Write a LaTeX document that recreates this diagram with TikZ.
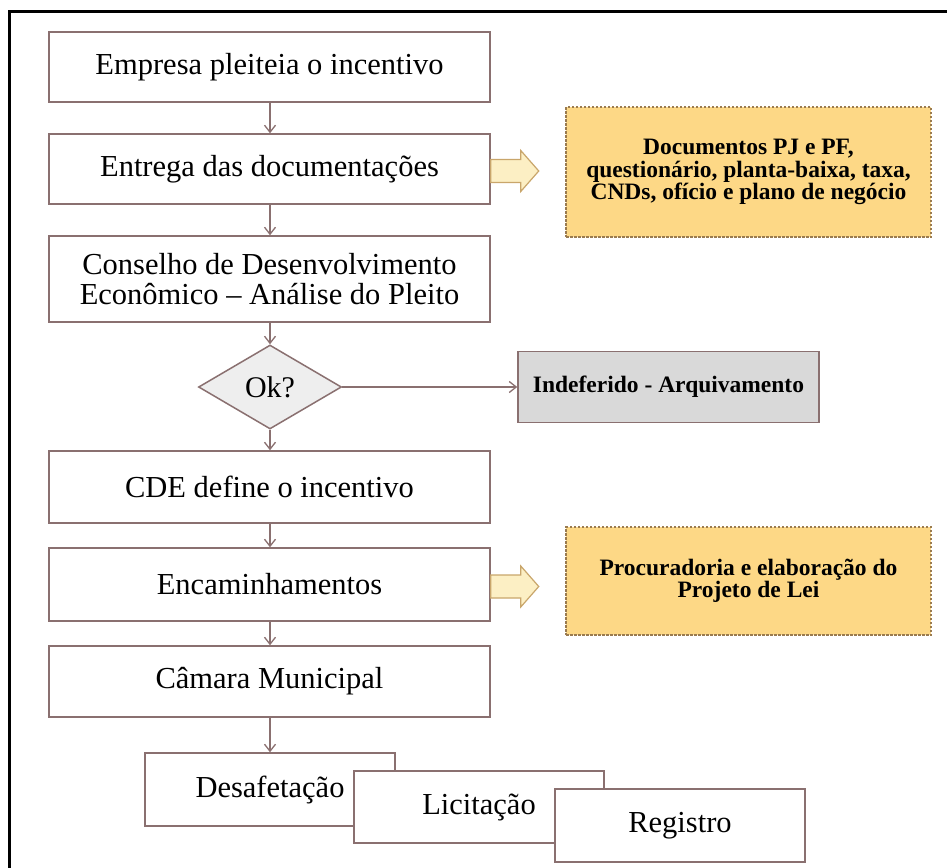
\documentclass[tikz,border=0pt]{standalone}
\usepackage{fontspec}
\setmainfont{Liberation Serif}
\usetikzlibrary{arrows.meta,shapes.geometric}
\definecolor{edgec}{HTML}{8A7070}
\definecolor{yfill}{HTML}{FDD886}
\definecolor{ydash}{HTML}{9A7B4F}
\definecolor{afill}{HTML}{FCEFC4}
\definecolor{aedge}{HTML}{C9A66B}
\definecolor{gfill}{HTML}{D9D9D9}
\definecolor{dfill}{HTML}{EEEEEE}
\tikzset{
  stepbox/.style={draw=edgec, line width=1.5pt, fill=white, rectangle, inner sep=0pt,
    align=center, font=\fontsize{30.5}{30}\selectfont},
  notebox/.style={draw=ydash, line width=1.3pt, dash pattern=on 2.5pt off 1.5pt, fill=yfill,
    rectangle, inner sep=0pt, align=center, font=\fontsize{23.5}{22.5}\selectfont\bfseries,
    minimum width=365pt},
  flowarrow/.style={draw=edgec, line width=1.3pt, -{Straight Barb[length=7pt,width=11pt]}},
  blockarrow/.style={draw=aedge, line width=1.2pt, fill=afill, line join=miter},
}
\begin{document}
\begin{tikzpicture}[x=1pt,y=-1pt]
\useasboundingbox (0,0) rectangle (947,867);
\fill[white] (0,0) rectangle (947,867);
\draw[line width=3pt] (9,875) -- (9,12) -- (955,12);

\node[stepbox, minimum width=441pt, minimum height=70pt] (b1) at (269.5,67) {Empresa pleiteia o incentivo};
\node[stepbox, minimum width=441pt, minimum height=70pt] (b2) at (269.5,169) {Entrega das documentações};
\node[stepbox, minimum width=441pt, minimum height=86pt] (b3) at (269.5,279) {Conselho de Desenvolvimento\\Econômico – Análise do Pleito};
\node[shape=diamond, draw=edgec, line width=1.5pt, fill=dfill, inner sep=0pt, aspect=1.7,
      minimum width=143pt, minimum height=84pt, font=\fontsize{30}{30}\selectfont] (ok) at (270,387) {Ok?};
\node[draw=edgec, line width=1.5pt, fill=gfill, inner sep=0pt, minimum width=301pt, minimum height=71pt,
      font=\fontsize{23.5}{24}\selectfont\bfseries] (ind) at (668.5,387) {Indeferido - Arquivamento};
\node[stepbox, minimum width=441pt, minimum height=72pt] (b4) at (269.5,487) {CDE define o incentivo};
\node[stepbox, minimum width=441pt, minimum height=73pt] (b5) at (269.5,584.5) {Encaminhamentos};
\node[stepbox, minimum width=441pt, minimum height=71pt] (b6) at (269.5,681.5) {Câmara Municipal};

\node[stepbox, minimum width=250pt, minimum height=73pt] (des) at (270,789.5) {Desafetação};
\node[stepbox, minimum width=250pt, minimum height=72pt] (lic) at (479,807) {Licitação};
\node[stepbox, minimum width=250pt, minimum height=73pt] (reg) at (680,825.5) {Registro};

\node[notebox, minimum height=130pt] (y1) at (748.5,172) {Documentos PJ e PF,\\questionário, planta-baixa, taxa,\\CNDs, ofício e plano de negócio};
\node[notebox, minimum height=108pt] (y2) at (748.5,581) {Procuradoria e elaboração do\\Projeto de Lei};

\draw[flowarrow] (b1.south -| 270,0) -- (b2.north -| 270,0);
\draw[flowarrow] (b2.south -| 270,0) -- (b3.north -| 270,0);
\draw[flowarrow] (b3.south -| ok.north) -- (ok.north);
\draw[flowarrow] (ok.south) -- (b4.north -| ok.south);
\draw[flowarrow] (ok.east) -- (ind.west);
\draw[flowarrow] (b4.south -| 270,0) -- (b5.north -| 270,0);
\draw[flowarrow] (b5.south -| 270,0) -- (b6.north -| 270,0);
\draw[flowarrow] (b6.south -| des.north) -- (des.north);

\draw[blockarrow] ([yshift=-2pt]b2.east) ++(0,-11.5) -- ++(30,0) -- ++(0,-9) -- ++(18,20.5) -- ++(-18,20.5) -- ++(0,-9) -- ++(-30,0) -- cycle;
\draw[blockarrow] ([yshift=-2pt]b5.east) ++(0,-11.5) -- ++(30,0) -- ++(0,-9) -- ++(18,20.5) -- ++(-18,20.5) -- ++(0,-9) -- ++(-30,0) -- cycle;
\end{tikzpicture}
\end{document}
